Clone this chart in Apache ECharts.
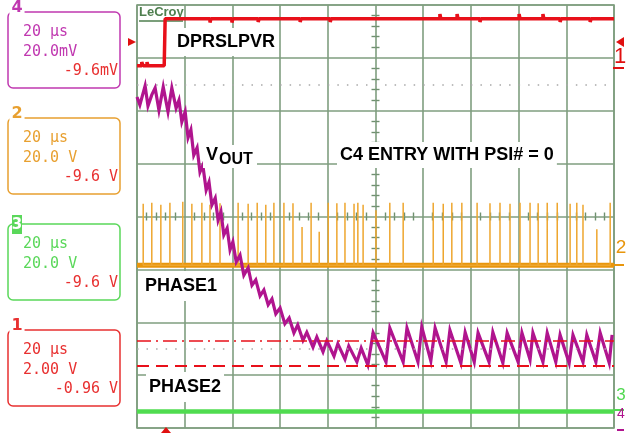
<!DOCTYPE html>
<html><head><meta charset="utf-8">
<script src="https://cdn.jsdelivr.net/npm/echarts@6/dist/echarts.min.js"></script>
<style>html,body{margin:0;padding:0;background:#fff}#c{width:626px;height:433px}</style>
</head><body><div id="c"></div>
<script>
// Oscilloscope screen units: x = divisions (20 us/div), y = divisions, centred on screen.
const ch1Dprslpvr = [[-5,2.85],[-4.90,2.85],[-4.90,2.92],[-4.87,2.85],[-4.79,2.85],[-4.79,2.92],[-4.77,2.85],[-4.43,2.85],[-4.41,3.74],
  [-3.47,3.74],[-3.47,3.67],[-3.45,3.74],[-3.01,3.74],[-3.01,3.67],[-2.99,3.74],[-2.46,3.74],[-2.46,3.68],[-2.44,3.74],
  [-1.58,3.74],[-1.58,3.68],[-1.56,3.74],[-0.95,3.74],[-0.95,3.68],[-0.93,3.74],[1.35,3.74],[1.35,3.83],[1.37,3.74],
  [1.71,3.74],[1.71,3.83],[1.73,3.74],[2.19,3.74],[2.19,3.68],[2.21,3.74],[3.01,3.74],[3.01,3.83],[3.03,3.74],
  [3.51,3.74],[3.51,3.83],[3.53,3.74],[3.87,3.74],[3.87,3.68],[3.89,3.74],[4.50,3.74],[4.50,3.68],[4.52,3.74],[5,3.74]];
const phase1Level = -0.92;
const phase1SpikeT = [-4.87,-4.69,-4.50,-4.31,-4.04,-3.85,-3.64,-3.47,-3.26,-2.88,-2.67,-2.48,-2.30,-2.13,-1.92,-1.73,-1.54,-1.35,-1.18,-0.99,
  -0.81,-0.64,-0.45,-0.37,-0.26,0.01,0.30,0.58,1.21,1.42,1.60,1.81,2.13,2.40,2.61,2.82,3.03,3.24,3.41,3.60,3.81,4.08,4.22,4.35,4.64,4.92];
const phase1SpikeTop = [0.24,0.26,0.22,0.26,0.28,0.24,0.26,0.22,0.25,0.26,0.24,0.26,0.22,0.26,0.26,0.25,-0.20,0.26,-0.29,0.26,
  0.25,0.26,0.24,0.26,0.22,0.12,0.26,0.26,0.26,0.24,0.26,0.26,0.26,0.25,0.26,0.24,0.26,0.26,0.25,0.26,0.26,0.24,0.26,0.22,-0.24,0.26];
const phase2Level = -3.69;
const vout = [[-5.00,2.26],[-4.94,2.11],[-4.83,2.47],[-4.77,2.09],[-4.69,2.30],[-4.62,2.43],[-4.54,2.01],[-4.45,2.45],[-4.35,1.98],[-4.27,2.43],
  [-4.18,2.05],[-4.12,2.20],[-4.06,1.79],[-3.99,1.98],[-3.93,1.49],[-3.87,1.64],[-3.81,1.16],[-3.74,1.30],[-3.68,0.84],[-3.62,0.97],
  [-3.55,0.50],[-3.49,0.65],[-3.43,0.22],[-3.36,0.35],[-3.30,-0.07],[-3.24,0.09],[-3.18,-0.35],[-3.11,-0.22],[-3.05,-0.63],[-2.99,-0.48],
  [-2.92,-0.86],[-2.84,-0.73],[-2.76,-1.11],[-2.67,-0.97],[-2.59,-1.30],[-2.51,-1.20],[-2.42,-1.50],[-2.34,-1.39],[-2.25,-1.67],[-2.17,-1.56],
  [-2.09,-1.84],[-2.00,-1.73],[-1.90,-2.03],[-1.81,-1.92],[-1.71,-2.20],[-1.63,-2.05],[-1.52,-2.34],[-1.44,-2.19],[-1.31,-2.47],[-1.23,-2.28],
  [-1.10,-2.56],[-1.02,-2.35],[-0.87,-2.64],[-0.79,-2.41],[-0.64,-2.70],[-0.56,-2.45],[-0.39,-2.75],[-0.30,-2.49],[-0.16,-2.81],
  [-0.05,-2.20],[0.22,-2.75],[0.30,-2.11],[0.58,-2.75],[0.66,-2.11],[0.89,-2.75],[0.97,-2.09],[1.16,-2.73],[1.25,-2.11],[1.48,-2.75],
  [1.56,-2.15],[1.79,-2.77],[1.88,-2.19],[2.07,-2.75],[2.15,-2.20],[2.38,-2.75],[2.46,-2.19],[2.67,-2.77],[2.76,-2.20],[2.99,-2.75],
  [3.07,-2.20],[3.24,-2.71],[3.30,-2.20],[3.51,-2.75],[3.60,-2.20],[3.78,-2.75],[3.87,-2.24],[4.06,-2.77],[4.14,-2.24],[4.35,-2.75],
  [4.43,-2.24],[4.62,-2.75],[4.71,-2.20],[4.90,-2.77],[4.96,-2.24]];
const cursorDashDot = -2.355;
const cursorDashed = -2.827;
const dottedRefs = [2.5, -2.5];

const GRIDC = '#7f9e7f';
const spikeData = [];
phase1SpikeT.forEach((t, i) => { spikeData.push([t, phase1Level], [t, phase1SpikeTop[i]], [t, phase1Level]); });

function mkX(pos, split) {
  return { type:'value', min:-5, max:5, interval:1, position:pos,
    axisLine:{show:false, onZero:true, onZeroAxisIndex:0}, axisTick:{show:false}, axisLabel:{show:false},
    splitLine:{show:split, lineStyle:{color:GRIDC, width:1.6}},
    minorTick:{show:true, splitNumber:5, length:4, lineStyle:{color:'#6f906f', width:1.4}} };
}
function mkY(pos, split) {
  return { type:'value', min:-4, max:4, interval:1, position:pos,
    axisLine:{show:false, onZero:true, onZeroAxisIndex:0}, axisTick:{show:false}, axisLabel:{show:false},
    splitLine:{show:split, lineStyle:{color:GRIDC, width:1.6}},
    minorTick:{show:true, splitNumber:5, length:4, lineStyle:{color:'#6f906f', width:1.4}} };
}

const mono = '15px "DejaVu Sans Mono"';
const boxes = [
  {top:12, num:'4', col:'#c038b0', l1:'20 \u03bcs', l2:'20.0mV', l3:'-9.6mV'},
  {top:118, num:'2', col:'#e8a030', l1:'20 \u03bcs', l2:'20.0 V', l3:'-9.6 V'},
  {top:224, num:'3', col:'#5ad85a', l1:'20 \u03bcs', l2:'20.0 V', l3:'-9.6 V'},
  {top:330, num:'1', col:'#e83030', l1:'20 \u03bcs', l2:'2.00 V', l3:'-0.96 V'}
];
const graphic = [];
boxes.forEach(b => {
  graphic.push({type:'rect', z:1, shape:{x:8, y:b.top, width:112, height:76, r:5}, style:{fill:'none', stroke:b.col, lineWidth:1.5}});
  if (b.num === '3') {
    graphic.push({type:'rect', z:2, shape:{x:12, y:b.top-9, width:10, height:19}, style:{fill:b.col}});
    graphic.push({type:'text', z:3, style:{x:17, y:b.top+1, text:b.num, font:'bold 15px "DejaVu Sans"', fill:'#fff', align:'center', verticalAlign:'middle'}});
  } else {
    graphic.push({type:'text', z:2, style:{x:17, y:b.top-4, text:b.num, font:'bold 16px "DejaVu Sans"', fill:b.col, align:'center', verticalAlign:'middle', backgroundColor:'#fff', padding:[0,2]}});
  }
  graphic.push({type:'text', z:2, style:{x:23, y:b.top+20, text:b.l1, font:mono, fill:b.col, verticalAlign:'middle'}});
  graphic.push({type:'text', z:2, style:{x:23, y:b.top+40, text:b.l2, font:mono, fill:b.col, verticalAlign:'middle'}});
  graphic.push({type:'text', z:2, style:{x:118, y:b.top+59, text:b.l3, font:mono, fill:'#e83030', align:'right', verticalAlign:'middle'}});
});
const lbl = 'bold 18px "Liberation Sans"';
graphic.push(
  {type:'text', z:1, style:{x:139, y:12, text:'LeCroy', font:'bold 13px "Liberation Sans"', fill:'#4f7f4f', verticalAlign:'middle'}},
  {type:'line', z:1, shape:{x1:139, y1:21, x2:183, y2:21}, style:{stroke:'#4f7f4f', lineWidth:1.5}},
  {type:'text', z:10, style:{x:173, y:42, text:'DPRSLPVR', font:lbl, fill:'#000', verticalAlign:'middle', backgroundColor:'#fff', padding:[5,4]}},
  {type:'rect', z:10, shape:{x:203, y:145, width:54, height:23}, style:{fill:'#fff'}},
  {type:'text', z:11, style:{x:206, y:155, text:'V', font:'bold 18px "Liberation Sans"', fill:'#000', verticalAlign:'middle'}},
  {type:'text', z:11, style:{x:219, y:160, text:'OUT', font:'bold 16px "Liberation Sans"', fill:'#000', verticalAlign:'middle'}},
  {type:'text', z:10, style:{x:337, y:155, text:'C4 ENTRY WITH PSI# = 0', font:lbl, fill:'#000', verticalAlign:'middle', backgroundColor:'#fff', padding:[4,3]}},
  {type:'text', z:10, style:{x:142, y:286, text:'PHASE1', font:lbl, fill:'#000', verticalAlign:'middle', backgroundColor:'#fff', padding:[6,3]}},
  {type:'text', z:10, style:{x:146, y:387, text:'PHASE2', font:lbl, fill:'#000', verticalAlign:'middle', backgroundColor:'#fff', padding:[6,3]}},
  // left trigger level & bottom trigger position markers
  {type:'polygon', z:10, shape:{points:[[128,38],[136,42],[128,46]]}, style:{fill:'#e01010'}},
  {type:'polygon', z:10, shape:{points:[[161,433],[166,427],[171,433]]}, style:{fill:'#e01010'}},
  // right channel markers
  {type:'polygon', z:10, shape:{points:[[624,37],[616,42],[624,47]]}, style:{fill:'#e01010'}},
  {type:'text', z:10, style:{x:620, y:57, text:'1', font:'22px "Liberation Sans"', fill:'#e01010', align:'center', verticalAlign:'middle'}},
  {type:'line', z:10, shape:{x1:613, y1:68, x2:624, y2:68}, style:{stroke:'#e01010', lineWidth:2}},
  {type:'text', z:10, style:{x:621, y:248, text:'2', font:'19px "Liberation Sans"', fill:'#e8960c', align:'center', verticalAlign:'middle'}},
  {type:'line', z:10, shape:{x1:613, y1:265, x2:624, y2:265}, style:{stroke:'#e8960c', lineWidth:2}},
  {type:'text', z:10, style:{x:621, y:395, text:'3', font:'17px "Liberation Sans"', fill:'#50d850', align:'center', verticalAlign:'middle'}},
  {type:'line', z:10, shape:{x1:614, y1:410, x2:624, y2:410}, style:{stroke:'#50d850', lineWidth:2}},
  {type:'text', z:10, style:{x:621, y:414, text:'4', font:'14px "Liberation Sans"', fill:'#b0148e', align:'center', verticalAlign:'middle'}},
  {type:'line', z:10, shape:{x1:617, y1:430, x2:624, y2:430}, style:{stroke:'#b0148e', lineWidth:2}}
);

const chart = echarts.init(document.getElementById('c'), null, {renderer:'canvas'});
chart.setOption({
  animation:false,
  backgroundColor:'#fff',
  grid:{left:137, right:12, top:5, bottom:5, show:true, borderColor:GRIDC, borderWidth:1.6, containLabel:false},
  xAxis:[mkX('bottom', true), mkX('top', false)],
  yAxis:[mkY('left', true), mkY('right', false)],
  graphic: graphic,
  series:[
    {type:'line', name:'dotted', data:[], symbol:'none', z:1,
      markLine:{silent:true, symbol:['none','none'], label:{show:false}, animation:false,
        data: dottedRefs.map(v => ({yAxis:v, lineStyle:{color:'#a8a8a8', width:1.5, type:[1.5,8.04], cap:'butt'}}))}},
    {type:'line', name:'PHASE2', data:[[-5,phase2Level],[5,phase2Level]], symbol:'none', lineStyle:{color:'#50dc50', width:4.5}, z:2},
    {type:'line', name:'PHASE1 base', data:[[-5,phase1Level],[5,phase1Level]], symbol:'none', lineStyle:{color:'#e8960c', width:5}, z:2},
    {type:'line', name:'PHASE1', data:spikeData, symbol:'none', lineStyle:{color:'#eea62e', width:1.5}, z:2},
    {type:'line', name:'VOUT', data:vout, symbol:'none', lineStyle:{color:'#b0148e', width:3.2, join:'miter'}, z:3},
    {type:'line', name:'DPRSLPVR', data:ch1Dprslpvr, symbol:'none', lineStyle:{color:'#e8101a', width:3.5}, z:4,
      markLine:{silent:true, symbol:['none','none'], label:{show:false}, animation:false,
        data:[
          {yAxis:cursorDashDot, lineStyle:{color:'#e8101a', width:1.5, type:[14,5,2,5]}},
          {yAxis:cursorDashed, lineStyle:{color:'#e8101a', width:2, type:[12,7]}}
        ]}}
  ]
});
</script></body></html>
